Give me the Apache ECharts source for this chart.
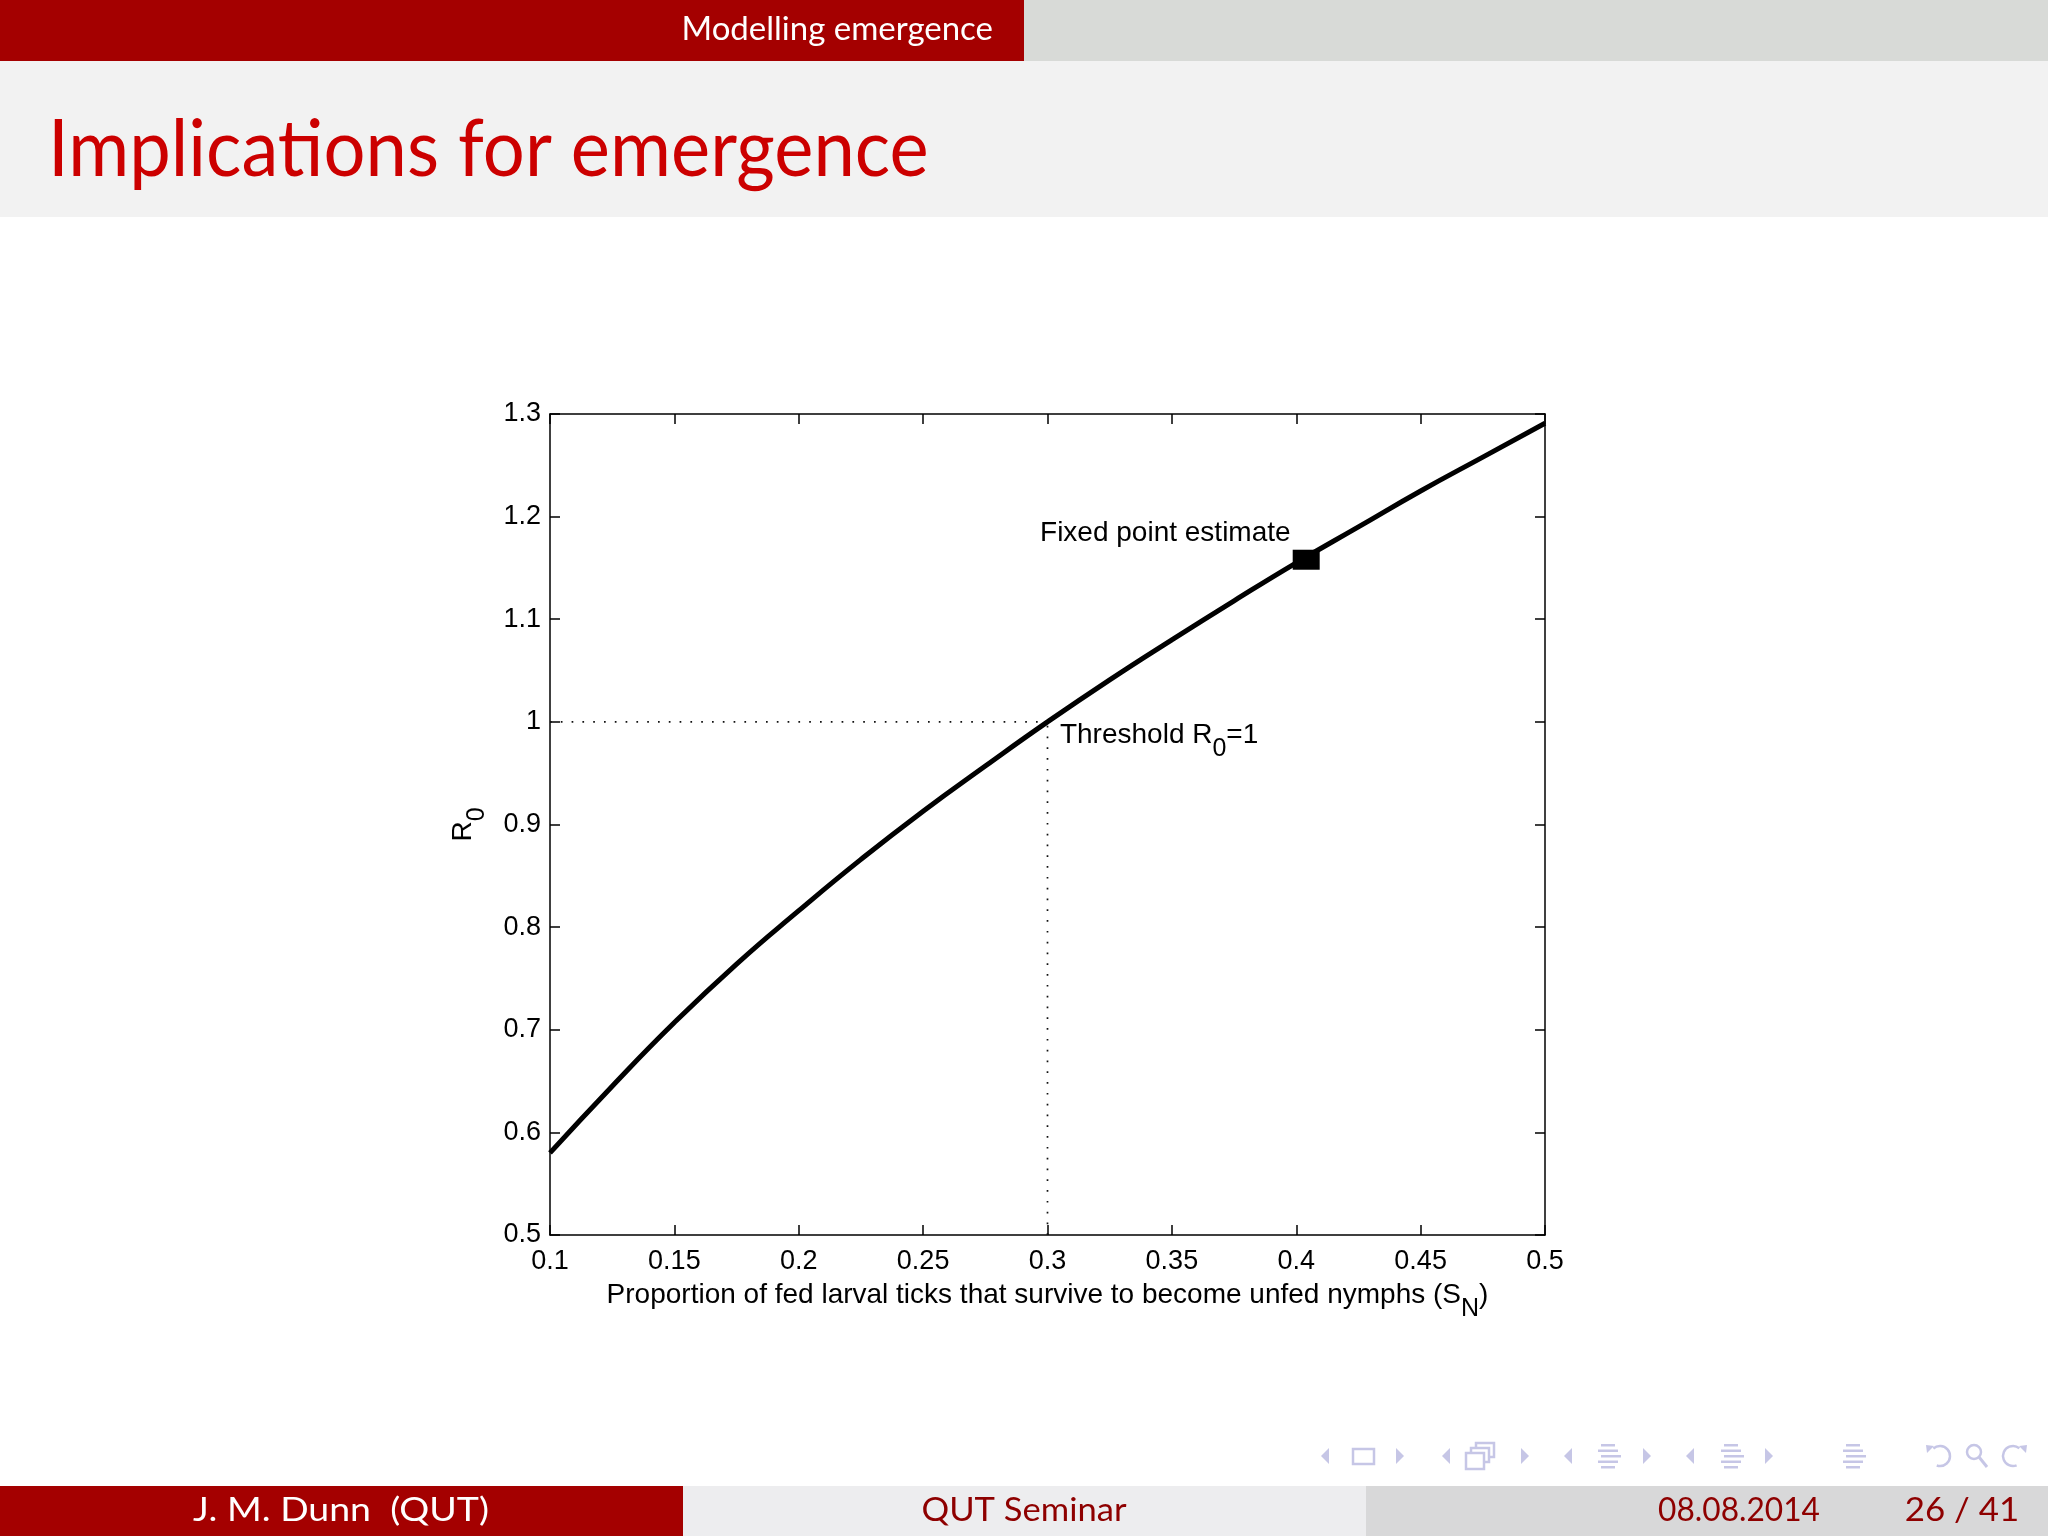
<!DOCTYPE html>
<html><head><meta charset="utf-8">
<script src="https://cdn.jsdelivr.net/npm/echarts@6/dist/echarts.min.js"></script>
<style>html,body{margin:0;padding:0;background:#fff}#c{width:2048px;height:1536px}</style>
</head><body><div id="c"></div>
<script>
// ---- data ----
const sN = [0.1, 0.125, 0.15, 0.175, 0.2, 0.225, 0.25, 0.275, 0.3, 0.325, 0.35, 0.375, 0.4, 0.425, 0.45, 0.475, 0.5];
const r0 = [0.580, 0.645, 0.707, 0.764, 0.816, 0.866, 0.913, 0.957, 1.0, 1.041, 1.080, 1.118, 1.155, 1.190, 1.225, 1.258, 1.291];
const xTickLabels = ['0.1', '0.15', '0.2', '0.25', '0.3', '0.35', '0.4', '0.45', '0.5'];
const yTickLabels = ['0.5', '0.6', '0.7', '0.8', '0.9', '1', '1.1', '1.2', '1.3'];
const thresholdX = 0.3;
const thresholdY = 1;
const fixedPoint = [0.404, 1.158];
const annoFixed = [0.297, 1.184];
const annoThreshold = [0.305, 0.987];
const xMin = 0.1, xMax = 0.5, xStep = 0.05;
const yMin = 0.5, yMax = 1.3, yStep = 0.1;

const FONT = 'Liberation Sans';
const SLIDE_FONT = 'Lato';

const chart = echarts.init(document.getElementById('c'), null, {renderer: 'canvas'});

function xFmt(v) { const i = Math.round((v - xMin) / xStep); return xTickLabels[i] ?? ''; }
function yFmt(v) { const i = Math.round((v - yMin) / yStep); return yTickLabels[i] ?? ''; }

const navColor = '#C6C6E6';
function triL(cx, cy) { return {type: 'polygon', shape: {points: [[cx + 4, cy - 8], [cx - 4, cy], [cx + 4, cy + 8]]}, style: {fill: navColor}}; }
function triR(cx, cy) { return {type: 'polygon', shape: {points: [[cx - 4, cy - 8], [cx + 4, cy], [cx - 4, cy + 8]]}, style: {fill: navColor}}; }
function lines(x, cy) {
  const ws = [14, 20, 20, 20, 14];
  return ws.map((w, i) => ({type: 'rect', shape: {x: x + (i % 2 ? 0 : 3), y: cy - 12 + i * 5.5, width: w, height: 2.5}, style: {fill: navColor}}));
}
const cy = 1456;
const nav = [
  triL(1325, cy), {type: 'rect', shape: {x: 1353, y: 1449, width: 21, height: 15}, style: {fill: 'none', stroke: navColor, lineWidth: 2.5}}, triR(1400, cy),
  triL(1446, cy),
  {type: 'rect', shape: {x: 1476, y: 1443, width: 18, height: 14}, style: {fill: 'none', stroke: navColor, lineWidth: 2.5}},
  {type: 'rect', shape: {x: 1471, y: 1448, width: 18, height: 14}, style: {fill: '#fff', stroke: navColor, lineWidth: 2.5}},
  {type: 'rect', shape: {x: 1466, y: 1453, width: 18, height: 16}, style: {fill: '#fff', stroke: navColor, lineWidth: 2.5}},
  triR(1525, cy),
  triL(1568, cy), ...lines(1598, cy), triR(1647, cy),
  triL(1690, cy), ...lines(1721, cy), triR(1769, cy),
  ...lines(1843, cy),
  {type: 'arc', shape: {cx: 1940, cy: cy, r: 10, startAngle: -2.3, endAngle: 1.9}, style: {stroke: navColor, lineWidth: 2.5, fill: 'none'}},
  {type: 'polygon', shape: {points: [[1926, 1445], [1934, 1446], [1927, 1453]]}, style: {fill: navColor}},
  {type: 'circle', shape: {cx: 1974, cy: 1452, r: 7}, style: {stroke: navColor, lineWidth: 2.5, fill: 'none'}},
  {type: 'line', shape: {x1: 1979, y1: 1457, x2: 1987, y2: 1467}, style: {stroke: navColor, lineWidth: 3}},
  {type: 'arc', shape: {cx: 2013, cy: cy, r: 10, startAngle: 1.2, endAngle: 5.4}, style: {stroke: navColor, lineWidth: 2.5, fill: 'none'}},
  {type: 'polygon', shape: {points: [[2027, 1445], [2019, 1446], [2026, 1453]]}, style: {fill: navColor}}
];

function txt(x, y, text, size, fill, align, sx) {
  return {type: 'text', x: x, y: y, scaleX: sx || 1, originX: 0, originY: 0,
    style: {text: text, fill: fill, font: size + 'px ' + SLIDE_FONT, textAlign: align, textVerticalAlign: 'middle'}};
}

const chrome = [
  {type: 'rect', shape: {x: 0, y: 0, width: 1024, height: 61}, style: {fill: '#A40000'}},
  {type: 'rect', shape: {x: 1024, y: 0, width: 1024, height: 61}, style: {fill: '#D8DAD7'}},
  {type: 'rect', shape: {x: 0, y: 61, width: 2048, height: 156}, style: {fill: '#F2F2F2'}},
  txt(993, 29, 'Modelling emergence', 33, '#fff', 'right', 1),
  txt(48, 150, 'Implications for emergence', 80, '#CC0000', 'left', 0.927),
  {type: 'rect', shape: {x: 0, y: 1486, width: 683, height: 50}, style: {fill: '#A40000'}},
  {type: 'rect', shape: {x: 683, y: 1486, width: 683, height: 50}, style: {fill: '#EDEDEF'}},
  {type: 'rect', shape: {x: 1366, y: 1486, width: 682, height: 50}, style: {fill: '#D8D8D9'}},
  txt(341, 1511, 'J. M. Dunn  (QUT)', 32, '#fff', 'center', 1.17),
  txt(1024, 1511, 'QUT Seminar', 32, '#8E0000', 'center', 1.08),
  txt(1739, 1511, '08.08.2014', 32, '#8E0000', 'center', 0.99),
  txt(1962, 1511, '26 / 41', 32, '#8E0000', 'center', 1.09),
  ...nav
];

const axisLineStyle = {color: '#000', width: 1.5};
const tickStyle = {show: true, inside: true, length: 10, lineStyle: {color: '#000', width: 1.5}};
const labelFont = {fontFamily: FONT, fontSize: 27, color: '#000'};
const mainRich = {fontFamily: FONT, fontSize: 28, color: '#000', lineHeight: 30};
const subRich = {fontFamily: FONT, fontSize: 25, color: '#000', lineHeight: 25, padding: [28, 0, 0, 0]};

const option = {
  animation: false,
  backgroundColor: '#fff',
  graphic: {elements: chrome},
  grid: {left: 550, top: 414, width: 995, height: 821, containLabel: false},
  xAxis: [
    {type: 'value', position: 'bottom', min: xMin, max: xMax, interval: xStep,
     axisLine: {show: true, onZero: false, lineStyle: axisLineStyle}, axisTick: tickStyle,
     axisLabel: Object.assign({margin: 13, formatter: xFmt}, labelFont), splitLine: {show: false},
     name: '{a|Proportion of fed larval ticks that survive to become unfed nymphs (S}{s|N}{a|)}',
     nameLocation: 'middle', nameGap: 45, nameMoveOverlap: false,
     nameTextStyle: {rich: {a: mainRich, s: subRich}}},
    {type: 'value', position: 'top', min: xMin, max: xMax, interval: xStep,
     axisLine: {show: true, onZero: false, lineStyle: axisLineStyle}, axisTick: tickStyle,
     axisLabel: {show: false}, splitLine: {show: false}}
  ],
  yAxis: [
    {type: 'value', position: 'left', min: yMin, max: yMax, interval: yStep,
     axisLine: {show: true, onZero: false, lineStyle: axisLineStyle}, axisTick: tickStyle,
     axisLabel: Object.assign({margin: 9, formatter: yFmt}, labelFont), splitLine: {show: false},
     name: '{a|R}{s|0}', nameLocation: 'middle', nameRotate: 90, nameGap: 72, nameMoveOverlap: false,
     nameTextStyle: {rich: {a: mainRich, s: subRich}}},
    {type: 'value', position: 'right', min: yMin, max: yMax, interval: yStep,
     axisLine: {show: true, onZero: false, lineStyle: axisLineStyle}, axisTick: tickStyle,
     axisLabel: {show: false}, splitLine: {show: false}}
  ],
  series: [
    {type: 'line', name: 'R0', data: sN.map((x, i) => [x, r0[i]]), smooth: true, symbol: 'none',
     lineStyle: {color: '#000', width: 5}, z: 5},
    {type: 'line', name: 'thrH', data: [[xMin, thresholdY], [thresholdX, thresholdY]], symbol: 'none',
     lineStyle: {color: '#111', width: 1.7, type: [1.7, 9.1]}, z: 3},
    {type: 'line', name: 'thrV', data: [[thresholdX, yMin], [thresholdX, thresholdY]], symbol: 'none',
     lineStyle: {color: '#111', width: 1.7, type: [1.7, 9.1]}, z: 3},
    {type: 'scatter', name: 'fixed', data: [fixedPoint], symbol: 'rect', symbolSize: [27, 20],
     itemStyle: {color: '#000', opacity: 1}, z: 6},
    {type: 'scatter', name: 'labels', symbolSize: 0, z: 7, itemStyle: {opacity: 1},
     data: [
       {value: annoFixed, label: {formatter: '{a|Fixed point estimate}'}},
       {value: annoThreshold, label: {formatter: '{a|Threshold R}{s|0}{a|=1}'}}
     ],
     label: {show: true, position: 'right', distance: 0, color: '#000', rich: {a: mainRich, s: subRich}}}
  ]
};
chart.setOption(option);
</script>
</body></html>
